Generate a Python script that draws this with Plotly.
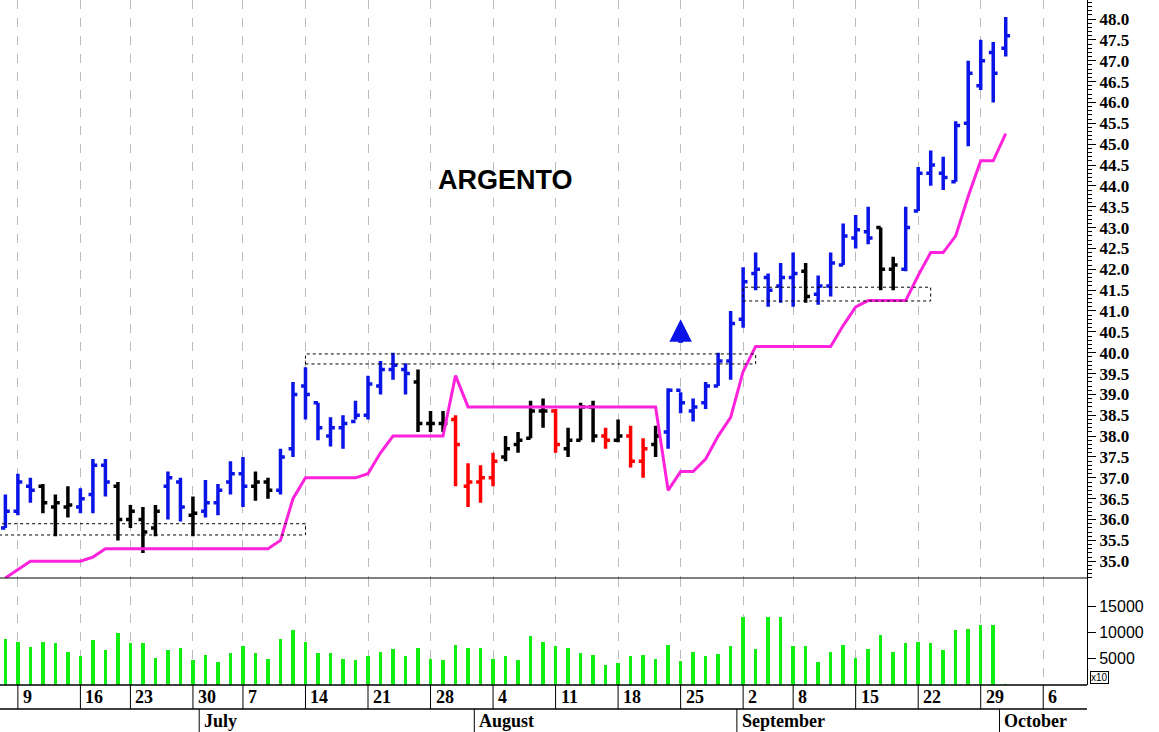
import plotly.graph_objects as go
from plotly.subplots import make_subplots

opens  = [35.8,36.2,36.8,36.8,36.3,36.3,36.3,36.6,37.3,36.8,36.0,36.0,35.8,36.8,36.9,36.1,36.2,36.4,36.9,37.1,36.8,36.9,36.7,37.7,39.2,
          38.8,38.0,38.2,38.35,38.5,39.2,39.6,39.6,39.3,38.3,38.3,38.4,36.8,36.9,37.0,37.5,37.8,37.95,38.6,38.6,37.7,37.9,38.7,38.0,37.9,
          38.0,37.4,37.8,38.1,39.1,38.6,38.8,39.2,39.8,40.8,41.9,41.8,41.6,41.8,41.95,41.4,41.6,42.1,42.75,42.9,43.0,42.0,42.0,43.4,44.3,
          44.3,44.1,45.5,46.4,47.2,47.3]
highs  = [36.6,37.1,37.0,36.85,36.6,36.8,36.75,37.45,37.45,36.9,36.35,36.3,36.35,37.15,37.0,36.55,36.95,36.85,37.4,37.5,37.15,37.0,37.7,39.3,39.65,
          38.8,38.45,38.5,38.85,39.45,39.8,40.0,39.75,39.6,38.6,38.6,38.5,37.35,37.3,37.6,38.0,38.1,38.85,38.9,38.65,38.2,38.8,38.85,38.2,38.4,
          38.25,37.95,38.25,39.15,39.05,38.9,39.3,40.0,41.0,42.05,42.4,41.9,42.15,42.4,42.15,41.85,42.4,43.1,43.3,43.5,43.0,42.3,43.5,44.45,44.85,
          44.7,45.55,47.0,47.5,47.45,48.05]
lows   = [35.8,36.1,36.4,36.15,35.6,36.05,36.15,36.15,36.55,35.5,35.8,35.2,35.6,36.0,35.95,35.6,36.05,36.1,36.6,36.3,36.45,36.5,36.6,37.5,38.4,
          37.9,37.75,37.7,38.4,38.4,39.0,39.35,39.0,38.1,38.1,38.1,36.8,36.3,36.4,36.8,37.4,37.6,37.95,38.2,37.6,37.5,37.9,37.85,37.7,37.85,
          37.25,37.0,37.5,37.7,38.55,38.35,38.65,39.2,39.35,40.6,41.5,41.1,41.2,41.1,41.2,41.15,41.35,42.1,42.5,42.6,41.5,41.5,41.95,43.4,44.0,
          43.9,44.1,44.95,46.3,46.0,47.1]
closes = [36.2,36.9,36.7,36.4,36.4,36.35,36.5,37.3,36.9,36.0,36.2,35.7,36.2,37.0,36.3,36.15,36.4,36.7,37.1,36.8,36.9,36.7,37.5,39.0,39.0,
          38.2,38.2,38.3,38.5,39.25,39.6,39.7,39.5,38.3,38.3,38.3,37.8,36.9,37.0,37.4,37.7,37.9,38.6,38.6,37.8,37.9,38.7,38.0,37.9,38.0,
          37.4,37.7,38.0,39.1,38.8,38.7,39.2,39.8,40.7,41.7,42.0,41.5,41.8,41.9,41.35,41.6,42.15,42.8,42.95,42.75,42.0,42.1,43.0,44.3,44.5,
          44.2,45.45,46.7,47.0,46.7,47.6]
bar_colors = (["B"]*3 + ["K"]*3 + ["B"]*3 + ["K"]*4 + ["B"]*2 + ["K"] + ["B"]*4 + ["K"]*2 + ["B"]*11 + ["K"]*3 +
              ["R"]*4 + ["K"]*4 + ["R"] + ["K"]*3 + ["R"] + ["K"] + ["R"]*2 + ["K"] + ["B"]*11 + ["K"] + ["B"]*5 +
              ["K"]*2 + ["B"]*9)
volumes = [8780,8210,7180,8210,8010,6280,5510,8530,6670,9940,8010,8010,5190,6600,7120,4740,5770,4420,6090,7430,6150,4940,8780,10450,8270,
           6030,6090,5000,4680,5510,6350,6860,5510,7050,5000,4680,7690,7120,7120,5000,5450,4680,9360,8210,7370,7050,6090,5700,3780,4100,
           5450,5700,4940,7630,4550,6280,5580,5960,7370,12880,6800,12880,12880,7370,7370,4420,6280,7630,5130,6860,9550,6280,7950,8210,7950,
           6600,10450,10700,11480,11480,130]
stop_line = [34.6,34.8,35.0,35.0,35.0,35.0,35.0,35.1,35.3,35.3,35.3,35.3,35.3,35.3,35.3,35.3,35.3,35.3,35.3,35.3,35.3,35.3,35.5,36.5,37.0,
             37.0,37.0,37.0,37.0,37.1,37.6,38.0,38.0,38.0,38.0,38.0,39.45,38.7,38.7,38.7,38.7,38.7,38.7,38.7,38.7,38.7,38.7,38.7,38.7,38.7,
             38.7,38.7,38.7,36.7,37.15,37.15,37.45,38.0,38.45,39.55,40.15,40.15,40.15,40.15,40.15,40.15,40.15,40.65,41.1,41.25,41.25,41.25,41.25,41.85,42.4,
             42.4,42.8,43.75,44.6,44.6,45.25]
day_ticks = [1,6,10,15,19,24,29,34,39,44,49,54,59,63,68,73,78,83]
day_labels = ["9","16","23","30","7","14","21","28","4","11","18","25","2","8","15","22","29","6"]
month_pos = [16,38,59,80]
month_labels = ["July","August","September","October"]
boxes = [(-0.5,24,35.63,35.9),(24,60,39.73,39.97),(59,74,41.24,41.57)]
vol_ticks = [5000,10000,15000]

n = len(closes)
idx = list(range(n))
XR = [-0.43, 86.5]
fig = make_subplots(rows=2, cols=1, shared_xaxes=True, vertical_spacing=0, row_heights=[0.844,0.156])
cmap = {"B":"#0a14e6","K":"#000000","R":"#ff0000"}
for key, col in cmap.items():
    sel = [i for i in idx if bar_colors[i]==key]
    fig.add_trace(go.Ohlc(x=sel, open=[opens[i] for i in sel], high=[highs[i] for i in sel],
                          low=[lows[i] for i in sel], close=[closes[i] for i in sel],
                          increasing=dict(line=dict(color=col,width=3.5)), decreasing=dict(line=dict(color=col,width=3.5)),
                          tickwidth=0.35, showlegend=False, hoverinfo="skip"), row=1, col=1)
fig.add_trace(go.Scatter(x=idx, y=stop_line, mode="lines", line=dict(color="#ff22dd", width=3), showlegend=False), row=1, col=1)
fig.add_trace(go.Bar(x=idx, y=volumes, marker=dict(color="#11ee11", line=dict(width=0)), width=0.28, showlegend=False), row=2, col=1)

shapes = []
for (x0,x1,y0,y1) in boxes:
    shapes.append(dict(type="rect", x0=x0, x1=x1, y0=y0, y1=y1, xref="x", yref="y",
                  line=dict(color="black", width=1, dash="dot")))

fig.add_annotation(x=54, y=40.8, ax=54, ay=40.2, xref="x", yref="y", axref="x", ayref="y",
                   showarrow=True, arrowhead=2, arrowsize=0.9, arrowwidth=5, arrowcolor="#0a14e6", text="")
fig.add_annotation(x=40, y=44.15, xref="x", yref="y", text="<b>ARGENTO</b>", showarrow=False,
                   font=dict(family="Liberation Sans", size=27, color="black"))

for r in (1,2):
    fig.update_xaxes(range=XR, tickvals=day_ticks, showticklabels=False, showgrid=True,
                     gridcolor="#bbbbbb", griddash="dash", gridwidth=1, zeroline=False, ticks="",
                     showline=False, rangeslider_visible=False, row=r, col=1)

tf = dict(family="Liberation Serif", size=17, color="black", weight="bold")
fig.update_yaxes(side="right", range=[34.595,48.456], dtick=0.5, tick0=35, tickformat=".1f", showgrid=False,
                 ticks="outside", ticklen=8, tickcolor="black", showline=True, linecolor="black", linewidth=1,
                 minor=dict(dtick=0.1, ticks="outside", ticklen=4, tickcolor="black"),
                 tickfont=tf, zeroline=False, row=1, col=1)
fig.update_yaxes(side="right", range=[0,20400], tickvals=vol_ticks, ticktext=[str(v) for v in vol_ticks], showgrid=False,
                 ticks="outside", ticklen=8, tickcolor="black", showline=True, linecolor="black", linewidth=1,
                 tickfont=dict(family="Liberation Sans", size=16, color="black"), zeroline=False, row=2, col=1)

H = 685.0
def py(p):
    return -(p - H)/H
shapes.append(dict(type="line", xref="paper", yref="paper", x0=0, x1=1, y0=py(578), y1=py(578), line=dict(color="black", width=1)))
shapes.append(dict(type="line", xref="paper", yref="paper", x0=0, x1=1, y0=py(685), y1=py(685), line=dict(color="black", width=1.5)))
shapes.append(dict(type="line", xref="paper", yref="paper", x0=0, x1=1, y0=py(709), y1=py(709), line=dict(color="black", width=1.5)))
for t, lab in zip(day_ticks, day_labels):
    shapes.append(dict(type="line", xref="x", yref="paper", x0=t, x1=t, y0=py(685), y1=py(709), line=dict(color="black", width=1)))
    fig.add_annotation(x=t, y=py(697), xref="x", yref="paper", text=lab, showarrow=False, xanchor="left", yanchor="middle", xshift=3,
                       font=dict(family="Liberation Serif", size=18, color="black", weight="bold"))
for m, lab in zip(month_pos, month_labels):
    shapes.append(dict(type="line", xref="x", yref="paper", x0=m-0.5, x1=m-0.5, y0=py(709), y1=py(732), line=dict(color="black", width=1)))
    fig.add_annotation(x=m-0.5, y=py(721), xref="x", yref="paper", text=lab, showarrow=False, xanchor="left", yanchor="middle", xshift=3,
                       font=dict(family="Liberation Serif", size=18, color="black", weight="bold"))
fig.add_annotation(x=1.0, y=py(684), xref="paper", yref="paper", text="x10", showarrow=False, xanchor="left", yanchor="bottom",
                   xshift=3, font=dict(family="Liberation Sans", size=10, color="black"), bordercolor="black", borderwidth=1, borderpad=0)
fig.update_layout(shapes=shapes)
fig.update_layout(width=1159, height=732, margin=dict(l=0, r=72, t=0, b=47), plot_bgcolor="white",
                  paper_bgcolor="white", showlegend=False, bargap=0)
fig.write_html("out.html", config={"displayModeBar": False},
               post_script="document.body.style.margin='0';document.body.style.overflow='hidden';")
